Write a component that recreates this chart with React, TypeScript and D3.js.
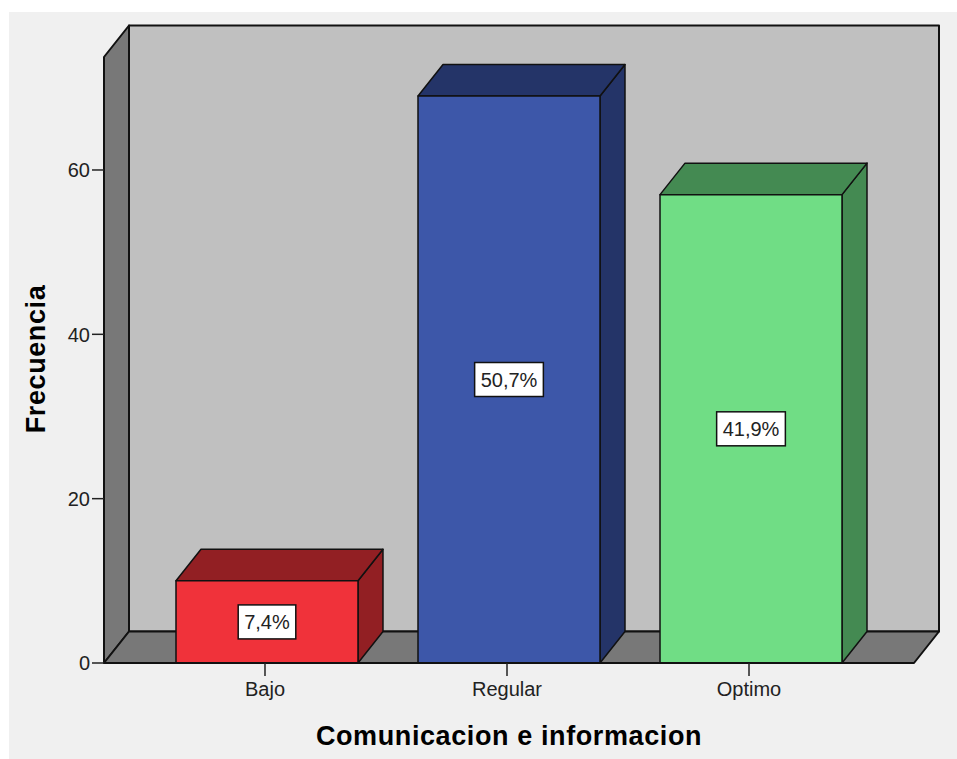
import React, { useEffect, useRef } from "react";
import * as d3 from "d3";

// Frequency per category of "Comunicacion e informacion"
const categories = ["Bajo", "Regular", "Optimo"];
const frequencies = [10, 69, 57];
const yTicks = [0, 20, 40, 60];
const frontColors = ["#f0323a", "#3d57a9", "#70dd85"];
const shadeColors = ["#921f23", "#243468", "#448a52"];

const W = 957;
const H = 759;
const FONT = "'Liberation Sans', Arial, Helvetica, sans-serif";

export default function App() {
  const ref = useRef<SVGSVGElement | null>(null);

  useEffect(() => {
    const svg = d3.select(ref.current);
    svg.selectAll("*").remove();

    const total = d3.sum(frequencies);
    const left = 104;
    const right = 914;
    const base = 663;
    const top = 57;
    const dx = 25; // depth offset of the 3D frame
    const dy = 31.5;

    const x = d3
      .scaleBand<string>()
      .domain(categories)
      .range([left, right])
      .paddingInner(0.248)
      .paddingOuter(0.2975);
    const y = d3.scaleLinear().domain([0, 73.75]).range([base, top]);

    // panel background
    svg.append("rect").attr("x", 9).attr("y", 12).attr("width", W - 9).attr("height", H - 12).attr("fill", "#f0f0f0");

    const frame = svg.append("g").attr("stroke", "#111").attr("stroke-width", 2).attr("stroke-linejoin", "round");

    // back wall
    frame
      .append("rect")
      .attr("x", left + dx)
      .attr("y", top - dy)
      .attr("width", right - left)
      .attr("height", base - top)
      .attr("fill", "#c0c0c0");

    // left wall
    frame
      .append("polygon")
      .attr("points", [
        [left, base],
        [left, top],
        [left + dx, top - dy],
        [left + dx, base - dy],
      ].map((p) => p.join(",")).join(" "))
      .attr("fill", "#787878");

    // floor
    frame
      .append("polygon")
      .attr("points", [
        [left, base],
        [right, base],
        [right + dx, base - dy],
        [left + dx, base - dy],
      ].map((p) => p.join(",")).join(" "))
      .attr("fill", "#787878");

    // bars
    const bars = svg.append("g").attr("stroke", "#111").attr("stroke-width", 1.5).attr("stroke-linejoin", "round");
    categories.forEach((c, i) => {
      const x0 = x(c)!;
      const x1 = x0 + x.bandwidth();
      const yt = y(frequencies[i]);
      const g = bars.append("g");
      // side face
      g.append("polygon")
        .attr("points", [
          [x1, base],
          [x1, yt],
          [x1 + dx, yt - dy],
          [x1 + dx, base - dy],
        ].map((p) => p.join(",")).join(" "))
        .attr("fill", shadeColors[i]);
      // top face
      g.append("polygon")
        .attr("points", [
          [x0, yt],
          [x1, yt],
          [x1 + dx, yt - dy],
          [x0 + dx, yt - dy],
        ].map((p) => p.join(",")).join(" "))
        .attr("fill", shadeColors[i]);
      // front face
      g.append("rect")
        .attr("x", x0)
        .attr("y", yt)
        .attr("width", x.bandwidth())
        .attr("height", base - yt)
        .attr("fill", frontColors[i]);
    });

    // axis lines along the front edge
    svg.append("line").attr("x1", left).attr("x2", right).attr("y1", base).attr("y2", base).attr("stroke", "#111").attr("stroke-width", 2);
    svg.append("line").attr("x1", left).attr("x2", left).attr("y1", top).attr("y2", base).attr("stroke", "#111").attr("stroke-width", 2);

    // y ticks
    const yAxis = svg.append("g");
    yTicks.forEach((t) => {
      yAxis.append("line").attr("x1", left - 12).attr("x2", left).attr("y1", y(t)).attr("y2", y(t)).attr("stroke", "#222").attr("stroke-width", 1.5);
      yAxis
        .append("text")
        .attr("x", left - 14)
        .attr("y", y(t))
        .attr("dy", "0.36em")
        .attr("text-anchor", "end")
        .attr("font-family", FONT)
        .attr("font-size", 20)
        .attr("fill", "#222")
        .text(String(t));
    });

    // x ticks
    const xAxis = svg.append("g");
    categories.forEach((c) => {
      const cx = x(c)! + x.bandwidth() / 2 - 2;
      xAxis.append("line").attr("x1", cx).attr("x2", cx).attr("y1", base).attr("y2", base + 13).attr("stroke", "#222").attr("stroke-width", 1.5);
      xAxis
        .append("text")
        .attr("x", cx)
        .attr("y", 696)
        .attr("text-anchor", "middle")
        .attr("font-family", FONT)
        .attr("font-size", 20)
        .attr("fill", "#222")
        .text(c);
    });

    // percentage labels in the middle of each bar's front face
    categories.forEach((c, i) => {
      const cx = x(c)! + x.bandwidth() / 2;
      const cy = (y(frequencies[i]) + base) / 2;
      const pct = ((frequencies[i] / total) * 100).toFixed(1).replace(".", ",") + "%";
      const g = svg.append("g");
      const rect = g.append("rect").attr("fill", "#fff").attr("stroke", "#111").attr("stroke-width", 1.5);
      const txt = g
        .append("text")
        .attr("x", cx)
        .attr("y", cy)
        .attr("dy", "0.36em")
        .attr("text-anchor", "middle")
        .attr("font-family", FONT)
        .attr("font-size", 20)
        .attr("fill", "#222")
        .text(pct);
      const w = (txt.node() as SVGTextElement).getComputedTextLength() + 12;
      const h = 34;
      rect.attr("x", cx - w / 2).attr("y", cy - h / 2).attr("width", w).attr("height", h);
    });

    // axis titles
    svg
      .append("text")
      .attr("x", 509)
      .attr("y", 745)
      .attr("text-anchor", "middle")
      .attr("font-family", FONT)
      .attr("font-weight", "bold")
      .attr("font-size", 27)
      .attr("letter-spacing", 0.6)
      .attr("fill", "#000")
      .text("Comunicacion e informacion");

    svg
      .append("text")
      .attr("transform", "translate(45,359) rotate(-90)")
      .attr("text-anchor", "middle")
      .attr("font-family", FONT)
      .attr("font-weight", "bold")
      .attr("font-size", 27)
      .attr("letter-spacing", 0.6)
      .attr("fill", "#000")
      .text("Frecuencia");
  }, []);

  return (
    <svg
      ref={ref}
      width={W}
      height={H}
      style={{ position: "absolute", left: 0, top: 0, background: "#fff" }}
    />
  );
}
